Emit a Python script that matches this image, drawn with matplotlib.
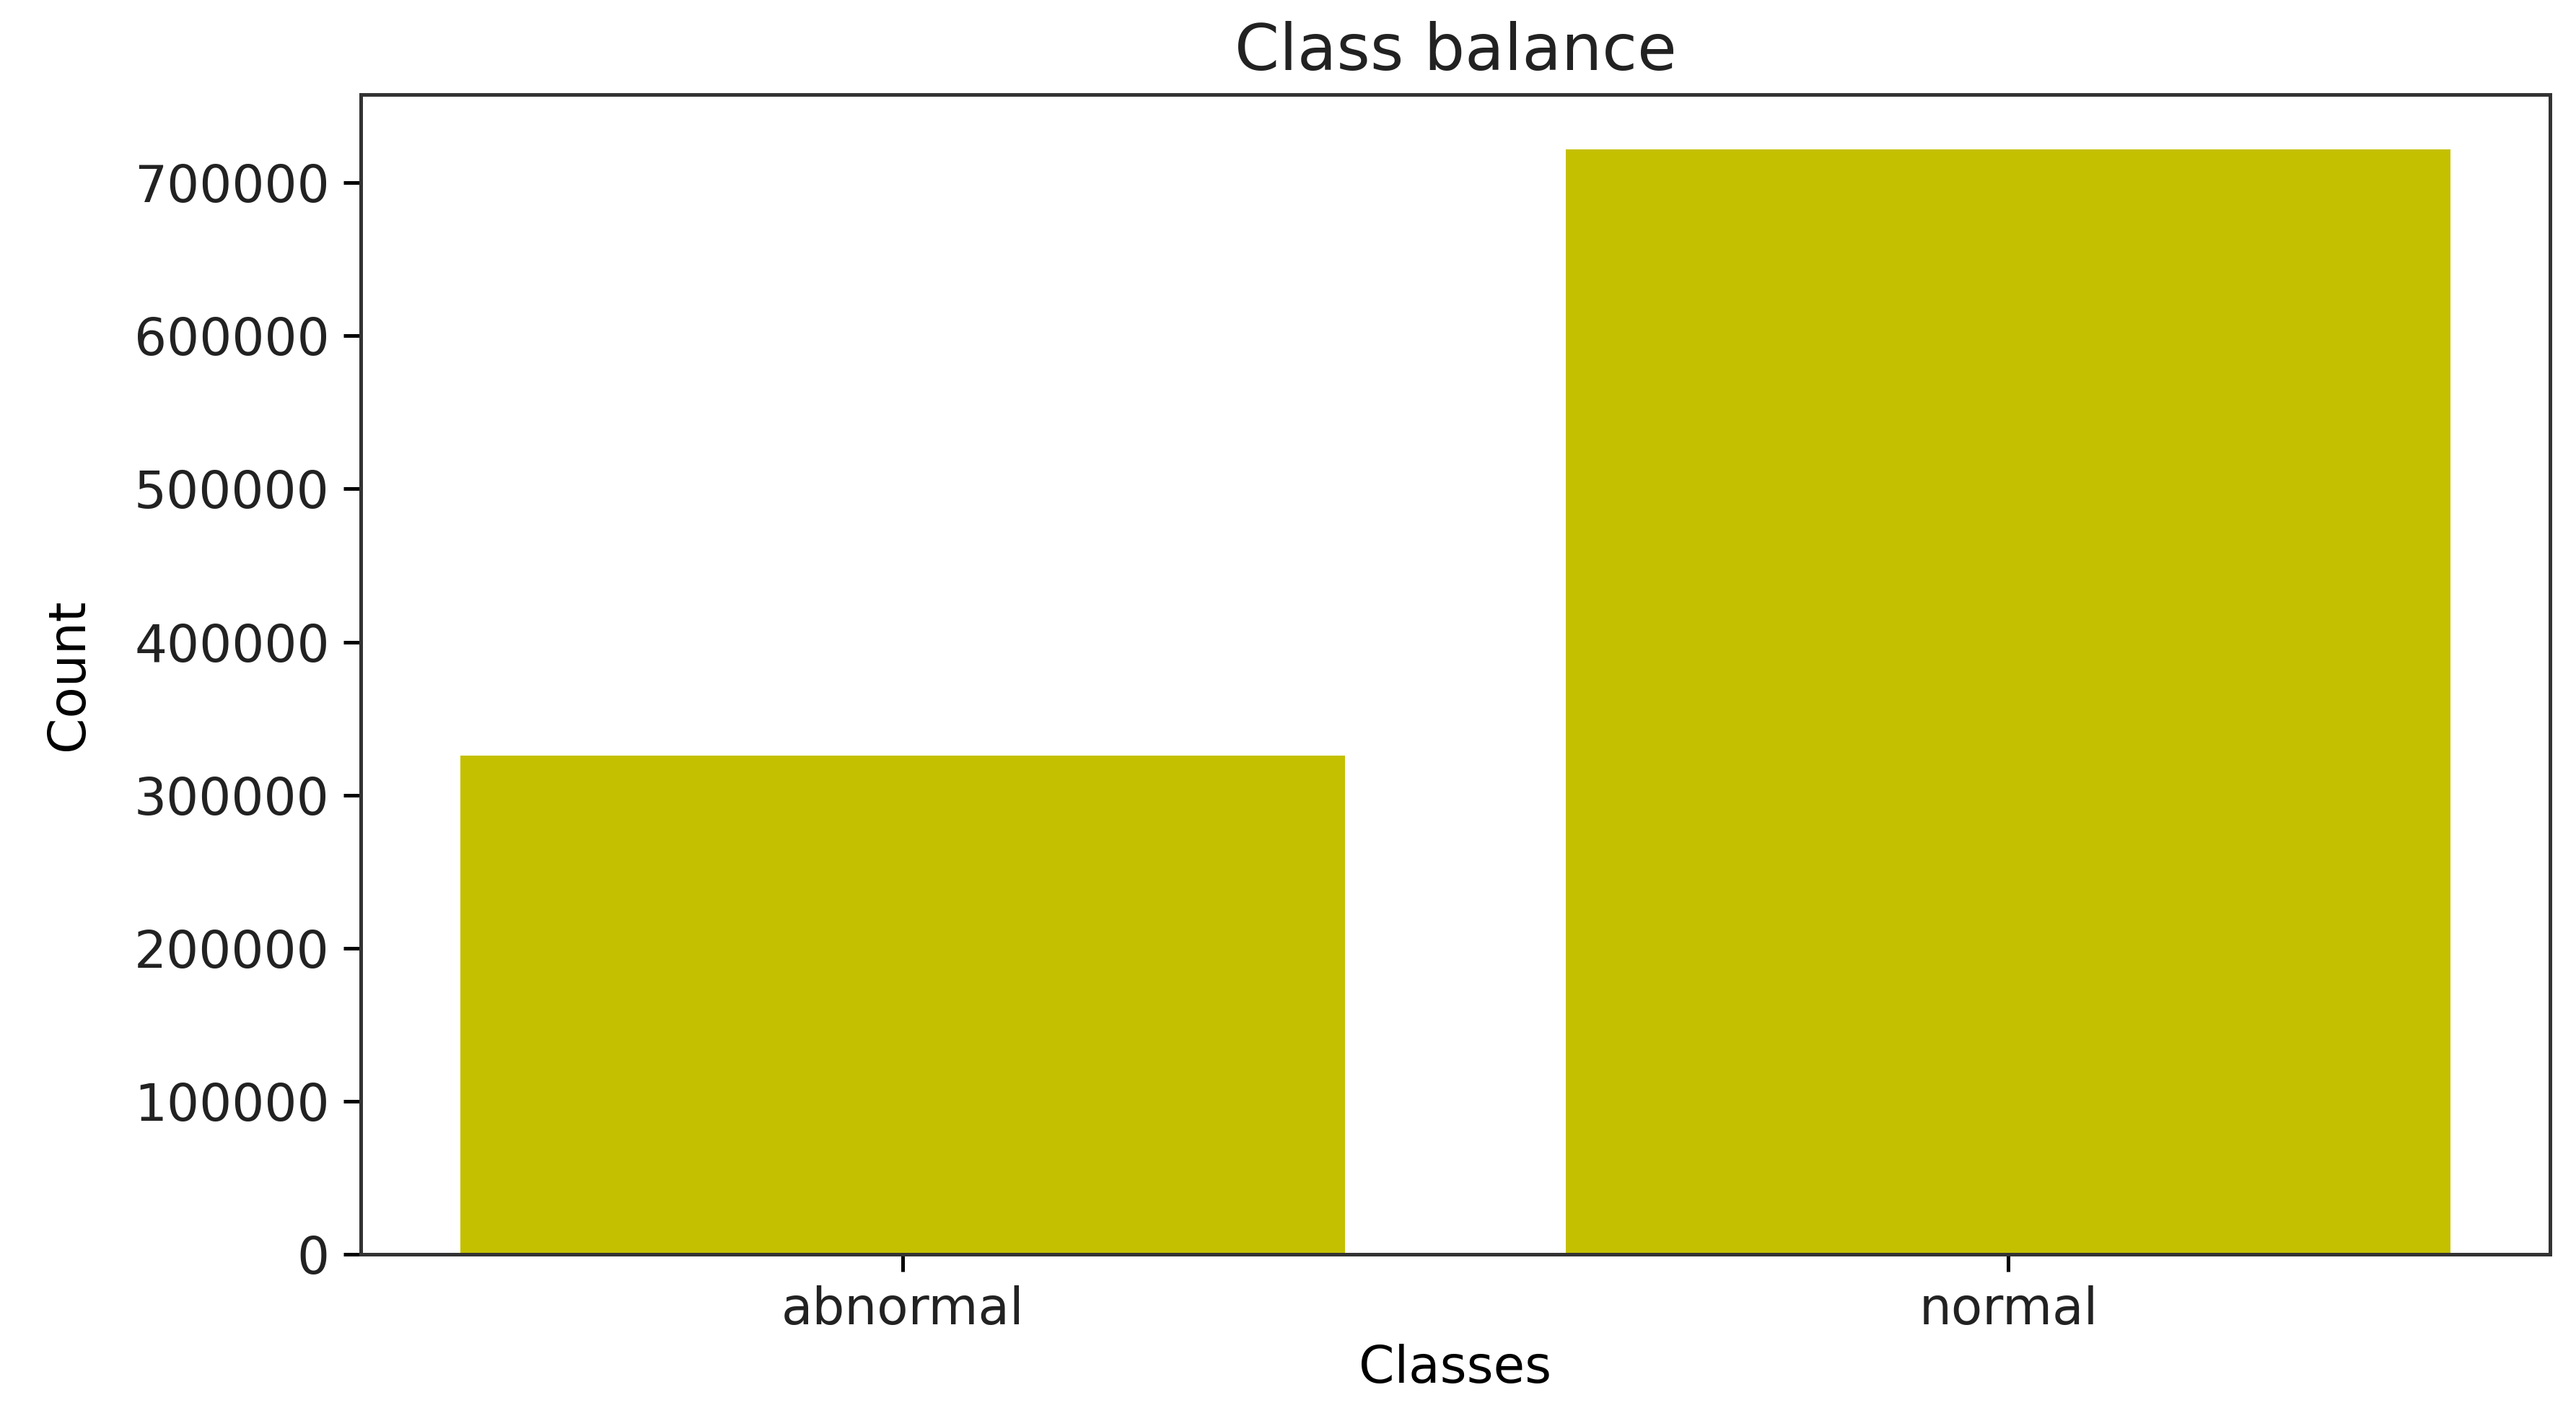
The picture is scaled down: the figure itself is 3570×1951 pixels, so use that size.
import matplotlib
matplotlib.use("Agg")
import matplotlib.pyplot as plt

# class counts
classes = ["abnormal", "normal"]
counts = [326000, 721500]

plt.rcParams['font.family'] = ['DejaVu Sans']
plt.rcParams['text.color'] = '#222222'
plt.rcParams['xtick.labelcolor'] = '#222222'
plt.rcParams['ytick.labelcolor'] = '#222222'

fig = plt.figure(figsize=(17.85, 9.755), dpi=200)
ax = fig.add_axes([0.140, 0.109, 0.850, 0.824])

ax.bar(classes, counts, color='#c4c000', width=0.8)

ax.set_title("Class balance", fontsize=32, pad=12)
ax.set_xlabel("Classes", fontsize=25.5, labelpad=4)
ax.set_ylabel("Count", fontsize=25.5, labelpad=20)

ax.tick_params(axis='both', labelsize=25.5, length=8.5, width=1.8, pad=7)
for s in ax.spines.values():
    s.set_linewidth(1.8)
    s.set_color('#333333')

fig.savefig("out.png", dpi=200)
